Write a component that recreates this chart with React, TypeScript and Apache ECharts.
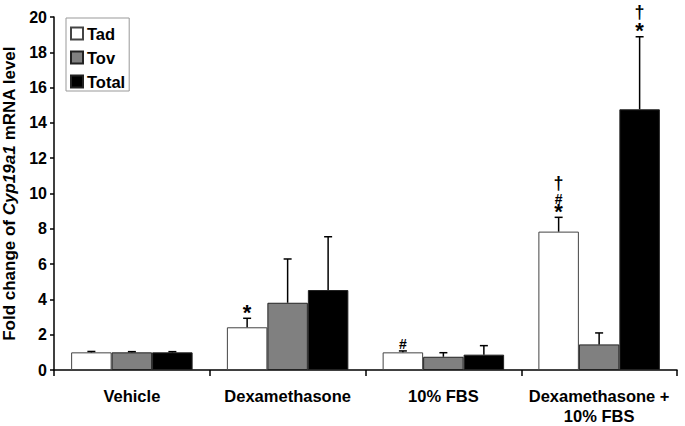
import React, { useEffect, useRef } from "react";
import * as echarts from "echarts";

const categories = ["Vehicle", "Dexamethasone", "10% FBS", "Dexamethasone +\n10% FBS"];
const seriesNames = ["Tad", "Tov", "Total"];
const tadValues = [1.0, 2.42, 1.0, 7.84];
const tovValues = [1.0, 3.81, 0.75, 1.45];
const totalValues = [1.0, 4.53, 0.87, 14.77];
const tadErrors = [0.05, 0.51, 0.08, 0.81];
const tovErrors = [0.04, 2.48, 0.23, 0.65];
const totalErrors = [0.04, 3.02, 0.51, 4.11];
// significance marks, listed from bottom to top
const tadMarks = [[], ["*"], ["#"], ["*", "#", "†"]];
const tovMarks = [[], [], [], []];
const totalMarks = [[], [], [], ["*", "†"]];
const yTicks = { min: 0, max: 20, interval: 2 };

const FONT = "Arial, 'Liberation Sans', sans-serif";
const colors = ["#ffffff", "#808080", "#000000"];
const values = [tadValues, tovValues, totalValues];
const errors = [tadErrors, tovErrors, totalErrors];
const marks = [tadMarks, tovMarks, totalMarks];

export default function App() {
  const ref = useRef<HTMLDivElement>(null);
  useEffect(() => {
    if (!ref.current) return;
    const chart = echarts.init(ref.current, undefined, { renderer: "svg" });
    const barSeries = seriesNames.map((name, si) => ({
      name,
      type: "bar",
      data: values[si],
      barGap: "0%",
      barCategoryGap: "22%",
      itemStyle: { color: colors[si], borderColor: si === 0 ? "#444" : "#222", borderWidth: 1 },
      z: 2,
    }));
    const errSeries = seriesNames.map((name, si) => ({
      type: "custom",
      name: name + "-err",
      data: values[si].map((v, i) => [i, v, v + errors[si][i]]),
      encode: { x: 0, y: 2 },
      z: 3,
      renderItem: (params: any, api: any) => {
        const cat = api.value(0);
        const v = api.value(1);
        const top = api.value(2);
        const band = api.size([1, 0])[0];
        const bw = (band * 0.78) / 3;
        const cx = api.coord([cat, 0])[0] + (si - 1) * bw;
        const yb = api.coord([cat, v])[1];
        const yt = api.coord([cat, top])[1];
        const children: any[] = [
          { type: "line", shape: { x1: cx, y1: yb, x2: cx, y2: yt }, style: { stroke: "#000", lineWidth: 1.5 } },
          { type: "line", shape: { x1: cx - 4, y1: yt, x2: cx + 4, y2: yt }, style: { stroke: "#000", lineWidth: 1.5 } },
        ];
        const m: string[] = marks[si][cat] || [];
        let y = yt;
        m.forEach((s, k) => {
          let step: number;
          if (k === 0) step = 7;
          else if (s === "#") step = 11;
          else step = m[k - 1] === "#" ? 17 : 18.5;
          y -= step;
          const off = s === "*" ? 1 : s === "†" ? 1 : 0;
          children.push({
            type: "text",
            style: {
              text: s,
              x: cx,
              y: y + off,
              align: "center",
              verticalAlign: "middle",
              fontFamily: FONT,
              fontWeight: "bold",
              fontSize: s === "*" ? 22 : s === "†" ? 18 : 14,
              fill: "#000",
            },
          });
        });
        return { type: "group", children };
      },
    }));
    chart.setOption({
      animation: false,
      grid: { left: 54, right: 8, top: 17, bottom: 56, outerBoundsMode: "none", containLabel: false },
      legend: {
        data: seriesNames,
        orient: "vertical",
        left: 66,
        top: 18,
        itemWidth: 12,
        itemHeight: 12,
        itemGap: 7,
        padding: [7, 4, 1, 4],
        borderColor: "#999",
        borderWidth: 1,
        icon: "rect",
        textStyle: { fontFamily: FONT, fontWeight: "bold", fontSize: 16.5, color: "#000", padding: [0, 0, 0, -1] },
      },
      xAxis: {
        type: "category",
        data: categories,
        axisLine: { lineStyle: { color: "#000", width: 1.5 } },
        axisTick: { show: true, length: 6, lineStyle: { color: "#000", width: 1.5 } },
        axisLabel: {
          fontFamily: FONT,
          fontWeight: "bold",
          fontSize: 16.5,
          color: "#000",
          margin: 16,
          lineHeight: 20,
          interval: 0,
        },
      },
      yAxis: {
        type: "value",
        min: yTicks.min,
        max: yTicks.max,
        interval: yTicks.interval,
        splitLine: { show: false },
        axisLine: { show: true, lineStyle: { color: "#000", width: 1.5 } },
        axisTick: { show: true, length: 4, lineStyle: { color: "#000", width: 1.5 } },
        axisLabel: { fontFamily: FONT, fontWeight: "bold", fontSize: 16, color: "#000", margin: 7 },
        name: "Fold change of {i|Cyp19a1} mRNA level",
        nameLocation: "middle",
        nameGap: 34,
        nameTextStyle: {
          fontFamily: FONT,
          fontWeight: "bold",
          fontSize: 17,
          color: "#000",
          rich: { i: { fontFamily: FONT, fontWeight: "bold", fontStyle: "italic", fontSize: 17, color: "#000" } },
        },
      },
      series: [...barSeries, ...errSeries],
    });
    return () => chart.dispose();
  }, []);
  return <div ref={ref} style={{ width: 685, height: 426, position: "absolute", left: 0, top: 0 }} />;
}
